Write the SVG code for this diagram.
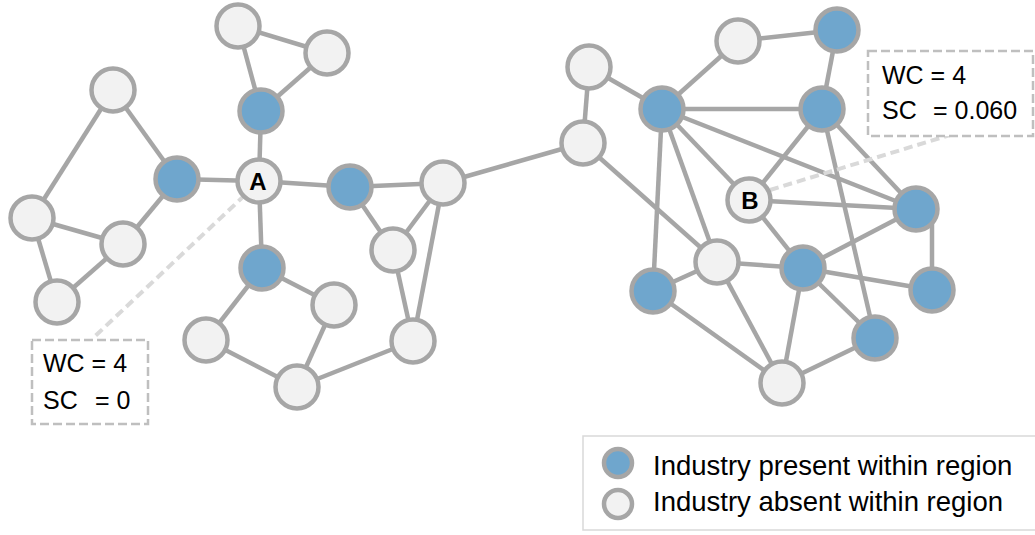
<svg xmlns="http://www.w3.org/2000/svg" width="1035" height="535" viewBox="0 0 1035 535">
<style>
.e{stroke:#A6A6A6;stroke-width:4.5;fill:none}
.on{fill:#6FA6CD;stroke:#A6A6A6;stroke-width:4.5}
.off{fill:#F2F2F2;stroke:#A6A6A6;stroke-width:4.5}
.call{stroke:#D9D9D9;stroke-width:4;stroke-dasharray:9 5;fill:none}
.box{fill:#FFFFFF;stroke:#BFBFBF;stroke-width:2.5;stroke-dasharray:9 4}
.t{font-family:"Liberation Sans",Arial,sans-serif;font-size:25px;fill:#000}
.lbl{font-family:"Liberation Sans",Arial,sans-serif;font-size:24px;font-weight:bold;fill:#000;text-anchor:middle}
.leg{font-family:"Liberation Sans",Arial,sans-serif;font-size:27.5px;fill:#000}
</style>
<rect width="1035" height="535" fill="#FFFFFF"/>
<g id="connectors">
<line class="e" x1="238" y1="26" x2="327" y2="53"/>
<line class="e" x1="238" y1="26" x2="261" y2="111"/>
<line class="e" x1="327" y1="53" x2="261" y2="111"/>
<line class="e" x1="261" y1="111" x2="259" y2="181"/>
<line class="e" x1="177" y1="179" x2="259" y2="181"/>
<line class="e" x1="113" y1="90" x2="177" y2="179"/>
<line class="e" x1="113" y1="90" x2="32" y2="218"/>
<line class="e" x1="32" y1="218" x2="123" y2="244"/>
<line class="e" x1="32" y1="218" x2="57" y2="302"/>
<line class="e" x1="123" y1="244" x2="177" y2="179"/>
<line class="e" x1="57" y1="302" x2="123" y2="244"/>
<line class="e" x1="259" y1="181" x2="350" y2="187"/>
<line class="e" x1="259" y1="181" x2="262" y2="268"/>
<line class="e" x1="350" y1="187" x2="443" y2="183"/>
<line class="e" x1="350" y1="187" x2="393" y2="250"/>
<line class="e" x1="443" y1="183" x2="393" y2="250"/>
<line class="e" x1="393" y1="250" x2="413" y2="341"/>
<line class="e" x1="443" y1="183" x2="413" y2="341"/>
<line class="e" x1="413" y1="341" x2="297" y2="387"/>
<line class="e" x1="262" y1="268" x2="334" y2="305"/>
<line class="e" x1="262" y1="268" x2="206" y2="340"/>
<line class="e" x1="334" y1="305" x2="297" y2="387"/>
<line class="e" x1="206" y1="340" x2="297" y2="387"/>
<line class="e" x1="443" y1="183" x2="583" y2="143"/>
<line class="e" x1="589" y1="67" x2="583" y2="143"/>
<line class="e" x1="589" y1="67" x2="662" y2="109"/>
<line class="e" x1="583" y1="143" x2="717" y2="262"/>
<line class="e" x1="738" y1="41" x2="837" y2="30"/>
<line class="e" x1="738" y1="41" x2="662" y2="109"/>
<line class="e" x1="837" y1="30" x2="822" y2="109"/>
<line class="e" x1="662" y1="109" x2="822" y2="109"/>
<line class="e" x1="662" y1="109" x2="916" y2="209"/>
<line class="e" x1="662" y1="109" x2="749" y2="200"/>
<line class="e" x1="662" y1="109" x2="653" y2="291"/>
<line class="e" x1="662" y1="109" x2="717" y2="262"/>
<line class="e" x1="822" y1="109" x2="749" y2="200"/>
<line class="e" x1="822" y1="109" x2="916" y2="209"/>
<line class="e" x1="822" y1="109" x2="875" y2="338"/>
<line class="e" x1="749" y1="200" x2="916" y2="209"/>
<line class="e" x1="749" y1="200" x2="803" y2="268"/>
<line class="e" x1="916" y1="209" x2="803" y2="268"/>
<line class="e" x1="932" y1="215" x2="932" y2="290"/>
<line class="e" x1="717" y1="262" x2="803" y2="268"/>
<line class="e" x1="717" y1="262" x2="653" y2="291"/>
<line class="e" x1="717" y1="262" x2="782" y2="383"/>
<line class="e" x1="653" y1="291" x2="782" y2="383"/>
<line class="e" x1="803" y1="268" x2="932" y2="290"/>
<line class="e" x1="803" y1="268" x2="875" y2="338"/>
<line class="e" x1="803" y1="268" x2="782" y2="383"/>
<line class="e" x1="875" y1="338" x2="782" y2="383"/>
<line class="call" x1="245" y1="195" x2="92" y2="339"/>
<line class="call" x1="770" y1="190" x2="950" y2="135"/>
</g>
<g id="n1"><circle class="off" cx="238" cy="26" r="21.5"/></g>
<g id="n2"><circle class="off" cx="327" cy="53" r="21.5"/></g>
<g id="n3"><circle class="on" cx="261" cy="111" r="21.5"/></g>
<g id="nA"><circle class="off" cx="259" cy="181" r="21.5"/><text class="lbl" x="258" y="190">A</text></g>
<g id="n5"><circle class="on" cx="177" cy="179" r="21.5"/></g>
<g id="n6"><circle class="off" cx="113" cy="90" r="21.5"/></g>
<g id="n7"><circle class="off" cx="32" cy="218" r="21.5"/></g>
<g id="n8"><circle class="off" cx="123" cy="244" r="21.5"/></g>
<g id="n9"><circle class="off" cx="57" cy="302" r="21.5"/></g>
<g id="n10"><circle class="on" cx="350" cy="187" r="21.5"/></g>
<g id="n11"><circle class="off" cx="443" cy="183" r="21.5"/></g>
<g id="n12"><circle class="off" cx="393" cy="250" r="21.5"/></g>
<g id="n13"><circle class="on" cx="262" cy="268" r="21.5"/></g>
<g id="n14"><circle class="off" cx="334" cy="305" r="21.5"/></g>
<g id="n15"><circle class="off" cx="206" cy="340" r="21.5"/></g>
<g id="n16"><circle class="off" cx="297" cy="387" r="21.5"/></g>
<g id="n17"><circle class="off" cx="413" cy="341" r="21.5"/></g>
<g id="n18"><circle class="off" cx="589" cy="67" r="21.5"/></g>
<g id="n19"><circle class="off" cx="583" cy="143" r="21.5"/></g>
<g id="n20"><circle class="off" cx="738" cy="41" r="21.5"/></g>
<g id="n21"><circle class="on" cx="837" cy="30" r="21.5"/></g>
<g id="n22"><circle class="on" cx="662" cy="109" r="21.5"/></g>
<g id="n23"><circle class="on" cx="822" cy="109" r="21.5"/></g>
<g id="nB"><circle class="off" cx="749" cy="200" r="21.5"/><text class="lbl" x="750" y="209">B</text></g>
<g id="n25"><circle class="on" cx="916" cy="209" r="21.5"/></g>
<g id="n26"><circle class="off" cx="717" cy="262" r="21.5"/></g>
<g id="n27"><circle class="on" cx="803" cy="268" r="21.5"/></g>
<g id="n28"><circle class="on" cx="653" cy="291" r="21.5"/></g>
<g id="n29"><circle class="on" cx="932" cy="290" r="21.5"/></g>
<g id="n30"><circle class="on" cx="875" cy="338" r="21.5"/></g>
<g id="n31"><circle class="off" cx="782" cy="383" r="21.5"/></g>
<g id="calloutA">
<rect class="box" x="32" y="340" width="116" height="84"/>
<text class="t" x="43" y="372">WC = 4</text>
<text class="t" x="43" y="409">SC<tspan x="95">= 0</tspan></text>
</g>
<g id="calloutB">
<rect class="box" x="868" y="51" width="165" height="85"/>
<text class="t" x="882" y="84">WC = 4</text>
<text class="t" x="882" y="119">SC<tspan x="933">= 0.060</tspan></text>
</g>
<g id="legend">
<rect x="583" y="436" width="460" height="94" fill="#FFFFFF" stroke="#D9D9D9" stroke-width="1.5"/>
<circle class="on" cx="618" cy="463" r="14"/>
<circle class="off" cx="618" cy="504" r="14"/>
<text class="leg" x="653" y="475">Industry present within region</text>
<text class="leg" x="653" y="511">Industry absent within region</text>
</g>
</svg>
